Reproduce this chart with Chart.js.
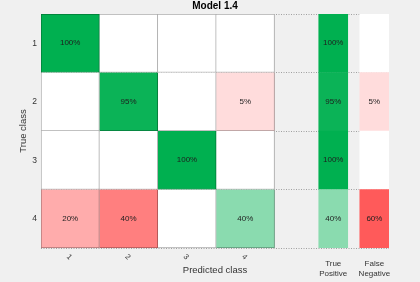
<!DOCTYPE html>
<html><head><meta charset="utf-8">
<script src="https://cdn.jsdelivr.net/npm/chart.js@4"></script>
<style>
html,body{margin:0;padding:0;background:#f0f0f0;}
#wrap{width:420px;height:282px;}
</style></head><body>
<div id="wrap"><canvas id="c" width="420" height="282"></canvas></div>
<script>
const chartTitle = 'Model 1.4';
const classes = ['1', '2', '3', '4'];
const confusion = [
  [100, 0, 0, 0],
  [0, 95, 0, 5],
  [0, 0, 100, 0],
  [20, 40, 0, 40]
];
const truePositive = [100, 95, 100, 40];
const falseNegative = [0, 5, 0, 60];
const summaryLabels = [['True', 'Positive'], ['False', 'Negative']];
const xAxisTitle = 'Predicted class';
const yAxisTitle = 'True class';

// layout, in x-scale units (one matrix column = 1 unit)
const TP_SPAN = [4.757, 5.253];
const FN_SPAN = [5.46, 5.96];
const X_MAX = 5.96;
const FONT = 'Liberation Sans';

function mixWhite(c, t) { return c.map(v => Math.round(255 + (v - 255) * t)); }
function greenRGB(v) { return v ? mixWhite([0, 176, 80], Math.pow(v / 100, 0.85)) : [255, 255, 255]; }
function redRGB(v) {
  if (!v) return [255, 255, 255];
  const g = Math.round(255 - Math.min(255, 12.8 * Math.pow(v, 0.624)));
  return [255, g, g];
}
const css = c => `rgb(${c.join(',')})`;
const darker = c => css(c.map(v => Math.round(v * 0.68)));
const cellRGB = (r, c) => (r === c ? greenRGB : redRGB)(confusion[r][c]);

const datasets = classes.map((_, c) => ({
  label: 'Predicted ' + classes[c],
  data: classes.map(() => [c, c + 1]),
  values: classes.map((_, r) => confusion[r][c]),
  backgroundColor: classes.map((_, r) => css(cellRGB(r, c))),
  borderColor: classes.map((_, r) => darker(cellRGB(r, c))),
  borderWidth: classes.map((_, r) => ({ top: r === 0 ? 1 : 0, left: c === 0 ? 1 : 0, right: 1, bottom: 1 })),
  borderSkipped: false
}));
datasets.push({
  label: 'True Positive',
  data: classes.map(() => TP_SPAN),
  values: truePositive,
  backgroundColor: truePositive.map(v => css(greenRGB(v))),
  borderWidth: 0
});
datasets.push({
  label: 'False Negative',
  data: classes.map(() => FN_SPAN),
  values: falseNegative,
  backgroundColor: falseNegative.map(v => css(redRGB(v))),
  borderWidth: 0
});

const labelsPlugin = {
  id: 'cellLabels',
  afterDatasetsDraw(chart) {
    const { ctx, chartArea } = chart;
    const xs = chart.scales.x;
    ctx.save();
    ctx.textAlign = 'center';
    ctx.textBaseline = 'middle';
    ctx.font = `8px "${FONT}"`;
    ctx.fillStyle = '#1e1e1e';
    chart.data.datasets.forEach((ds, di) => {
      chart.getDatasetMeta(di).data.forEach((el, i) => {
        const v = ds.values[i];
        if (!v) return;
        const { x, y, base } = el.getProps(['x', 'y', 'base'], true);
        ctx.fillText(v + '%', (x + base) / 2, y);
      });
    });
    // rotated predicted-class tick labels
    ctx.fillStyle = '#333';
    ctx.font = `7.5px "${FONT}"`;
    classes.forEach((lab, i) => {
      const px = xs.getPixelForValue(i + 0.5);
      ctx.save();
      ctx.translate(px - 1, chartArea.bottom + 9);
      ctx.rotate(Math.PI / 4);
      ctx.fillText(lab, 0, 0);
      ctx.restore();
    });
    // summary column labels
    ctx.font = `8px "${FONT}"`;
    [TP_SPAN, FN_SPAN].forEach((span, k) => {
      const px = xs.getPixelForValue((span[0] + span[1]) / 2);
      summaryLabels[k].forEach((line, j) => ctx.fillText(line, px, chartArea.bottom + 15.7 + j * 10));
    });
    ctx.restore();
  }
};

new Chart(document.getElementById('c'), {
  type: 'bar',
  data: { labels: classes, datasets },
  plugins: [labelsPlugin],
  options: {
    indexAxis: 'y',
    responsive: false,
    animation: false,
    layout: { padding: { left: 0, right: 31, top: 0, bottom: 0 } },
    datasets: { bar: { grouped: false, barPercentage: 1, categoryPercentage: 1 } },
    plugins: {
      legend: { display: false },
      tooltip: { enabled: false },
      title: {
        display: true, text: chartTitle, fullSize: false, color: '#000',
        font: { family: FONT, size: 10, weight: 'bold' },
        padding: { top: 0, bottom: 2 }
      }
    },
    scales: {
      x: {
        type: 'linear', min: 0, max: X_MAX,
        grid: { display: false },
        border: { display: false },
        ticks: { display: false },
        title: { display: true, text: xAxisTitle, color: '#333', font: { family: FONT, size: 9.5 }, padding: { top: 0, bottom: 6 } },
        afterFit(s) { s.height = 34; }
      },
      y: {
        type: 'category',
        offset: true,
        grid: { display: true, color: '#a0a0a0', lineWidth: 1, drawTicks: false, offset: true },
        border: { display: false, dash: [1, 1.5] },
        ticks: { color: '#333', font: { family: FONT, size: 8.5 }, padding: 4 },
        title: { display: true, text: yAxisTitle, color: '#333', font: { family: FONT, size: 9.5 }, padding: { top: 18, bottom: 0 } },
        afterFit(s) { s.width = 41; }
      }
    }
  }
});
</script>
</body></html>
